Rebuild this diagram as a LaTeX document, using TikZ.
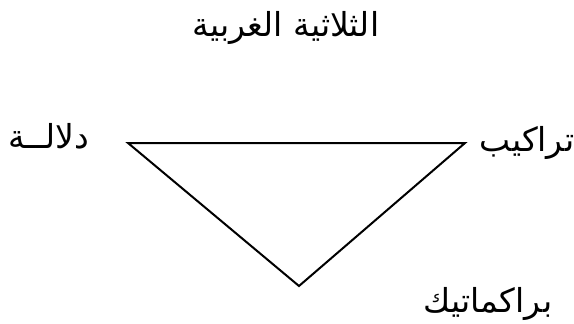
\documentclass[tikz,border=0pt]{standalone}
\usepackage{fontspec}
\usepackage{tikz}
\TeXXeTstate=1
\newfontfamily\arabicfont[Script=Arabic]{DejaVu Sans}

\begin{document}
\begin{tikzpicture}[x=1pt,y=-1pt,
  lbl/.style={inner sep=0pt,font=\arabicfont\fontsize{33}{40}\selectfont},
  edge/.style={line width=2pt,line join=miter}]

  \useasboundingbox (0,0) rectangle (574,324);

  % Titre
  \node[lbl] (titre) at (286,28) {\beginR الثلاثية الغربية\endR};

  % Sommets du triangle
  \coordinate (g) at (128,143);
  \coordinate (d) at (465,143);
  \coordinate (b) at (299,286);

  \draw[edge] (g) -- (d) -- (b) -- cycle;

  % Etiquettes
  \node[lbl] (dalala) at (49,136)  {\beginR دلالــة\endR};
  \node[lbl] (tarakib) at (527,143) {\beginR تراكيب\endR};
  \node[lbl] (prag) at (488,304) {\beginR براكماتيك\endR};
\end{tikzpicture}
\end{document}
